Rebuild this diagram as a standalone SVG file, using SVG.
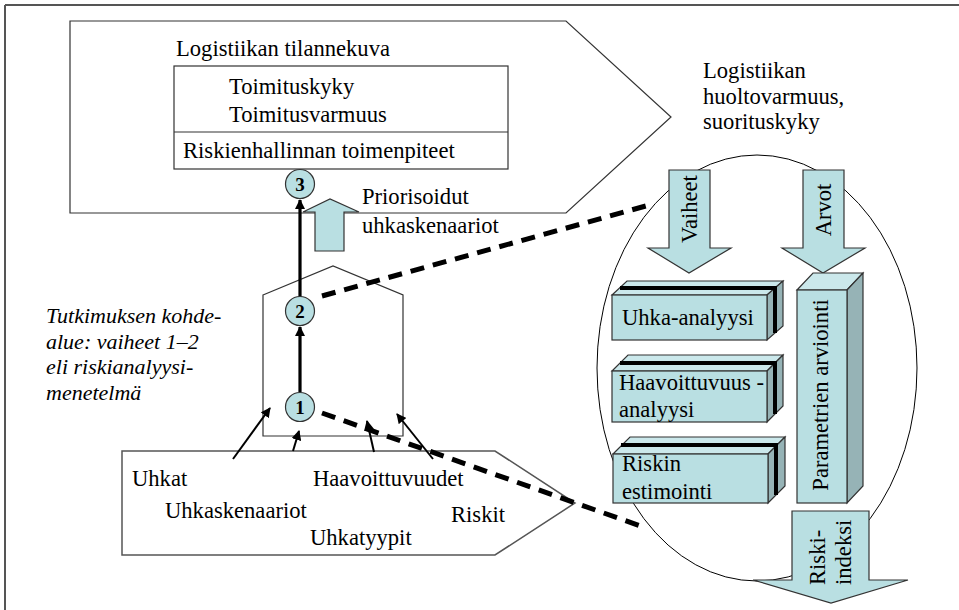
<svg xmlns="http://www.w3.org/2000/svg" width="959" height="610" viewBox="0 0 959 610" font-family="'Liberation Serif', Tinos, 'Times New Roman', 'DejaVu Serif', serif">
  <style>
    text { font-family: 'Liberation Serif', Tinos, 'Times New Roman', 'DejaVu Serif', serif; font-size: 22.6px; fill: #000; }
    .it { font-style: italic; font-size: 22px; }
    .num { font-weight: bold; font-size: 19px; text-anchor: middle; }
    .mid { text-anchor: middle; }
    .outline { fill: #fff; stroke: #333; stroke-width: 1.2; }
    .cyan { fill: #b9dfe2; stroke: #333; stroke-width: 1.2; }
    .top { fill: #cbe8eb; stroke: #333; stroke-width: 1.2; }
    .side { fill: #96b3b6; stroke: #333; stroke-width: 1.2; }
    .seam { fill: none; stroke: #000; stroke-width: 4; }
    .thin { stroke: #000; stroke-width: 2; fill: none; marker-end: url(#head); }
    .thick { stroke: #000; stroke-width: 3.2; fill: none; marker-end: url(#headBig); }
    .dash { stroke: #000; stroke-width: 5; fill: none; stroke-dasharray: 14 9; }
  </style>
  <defs>
    <marker id="head" viewBox="0 0 10 10" refX="9" refY="5" markerWidth="5" markerHeight="5" orient="auto" markerUnits="strokeWidth">
      <path d="M0,0 L10,5 L0,10 z" fill="#000"/>
    </marker>
    <marker id="headBig" viewBox="0 0 10 10" refX="9" refY="5" markerWidth="3.2" markerHeight="3.2" orient="auto" markerUnits="strokeWidth">
      <path d="M0,0 L10,5 L0,10 z" fill="#000"/>
    </marker>
  </defs>

  <rect width="959" height="610" fill="#fff"/>

  <!-- frame -->
  <g id="frame" stroke="#555" stroke-width="2" fill="none">
    <line x1="5" y1="5" x2="959" y2="5"/>
    <line x1="5" y1="5" x2="5" y2="610"/>
  </g>

  <!-- situation picture (top pentagon) -->
  <g id="tilannekuva">
    <polygon class="outline" points="70,21 566,21 671,117 566,213 70,213"/>
    <text x="176" y="56">Logistiikan tilannekuva</text>
    <rect x="174" y="66" width="334" height="103" fill="#fff" stroke="#333" stroke-width="1.2"/>
    <line x1="174" y1="132" x2="508" y2="132" stroke="#333" stroke-width="1.2"/>
    <text x="229" y="94">Toimituskyky</text>
    <text x="229" y="122">Toimitusvarmuus</text>
    <text x="183" y="158">Riskienhallinnan toimenpiteet</text>
  </g>

  <!-- right caption -->
  <g id="huoltovarmuus">
    <text x="703" y="78">Logistiikan</text>
    <text x="703" y="104">huoltovarmuus,</text>
    <text x="703" y="129">suorituskyky</text>
  </g>

  <!-- research area (middle pentagon) -->
  <g id="kohdealue">
    <polygon class="outline" points="263,295 333,266 403,295 403,436 263,436"/>
  </g>

  <g id="kohdealue-teksti">
    <text class="it" x="46" y="323">Tutkimuksen kohde-</text>
    <text class="it" x="46" y="349">alue: vaiheet 1–2</text>
    <text class="it" x="46" y="374">eli riskianalyysi-</text>
    <text class="it" x="46" y="400">menetelmä</text>
  </g>

  <!-- inputs (bottom pentagon) -->
  <g id="syotteet">
    <polygon points="122,451 495,451 575,503 495,555 122,555" fill="#fff" stroke="#555" stroke-width="1.5"/>
    <text x="132" y="486">Uhkat</text>
    <text x="313" y="486">Haavoittuvuudet</text>
    <text x="165" y="518">Uhkaskenaariot</text>
    <text x="310" y="545">Uhkatyypit</text>
    <text x="451" y="522">Riskit</text>
  </g>

  <!-- prioritised scenarios block arrow -->
  <g id="priorisoidut">
    <polygon class="cyan" points="315,251 315,212 303,212 330,199 359,212 344,212 344,251"/>
    <text x="362" y="204">Priorisoidut</text>
    <text x="362" y="233">uhkaskenaariot</text>
  </g>

  <!-- method ellipse -->
  <g id="menetelma">
    <ellipse cx="757" cy="368" rx="160" ry="213" fill="none" stroke="#000" stroke-width="1"/>
  </g>

  <g id="vaiheet">
    <polygon class="cyan" points="669,170 710,170 710,248 731,248 689,273 648,248 669,248"/>
    <text class="mid" transform="translate(697,209) rotate(-90)">Vaiheet</text>
  </g>

  <g id="arvot">
    <polygon class="cyan" points="803,170 844,170 844,248 865,248 823,273 782,248 803,248"/>
    <text class="mid" transform="translate(831,210) rotate(-90)">Arvot</text>
  </g>

  <!-- analysis blocks -->
  <g id="uhka-analyysi">
    <polygon class="top" points="612,295 627,281 783,281 767,295"/>
    <polygon class="side" points="767,295 783,281 783,326 767,340"/>
    <rect class="cyan" x="612" y="295" width="155" height="45"/>
    <polyline class="seam" points="620,288 775,288 775,333"/>
    <text x="622" y="325">Uhka-analyysi</text>
  </g>

  <g id="haavoittuvuusanalyysi">
    <polygon class="top" points="612,371 628,355 783,355 767,371"/>
    <polygon class="side" points="767,371 783,355 783,406 767,422"/>
    <rect class="cyan" x="612" y="371" width="155" height="51"/>
    <polyline class="seam" points="620,363 775,363 775,414"/>
    <text x="619" y="390">Haavoittuvuus -</text>
    <text x="619" y="417">analyysi</text>
  </g>

  <g id="riskin-estimointi">
    <polygon class="top" points="613,454 630,437 785,437 768,454"/>
    <polygon class="side" points="768,454 785,437 785,486 768,503"/>
    <rect class="cyan" x="613" y="454" width="155" height="49"/>
    <polyline class="seam" points="621,445 776,445 776,495"/>
    <text x="622" y="471">Riskin</text>
    <text x="622" y="499">estimointi</text>
  </g>

  <g id="parametrien-arviointi">
    <polygon class="top" points="797,290 813,273 863,273 847,290"/>
    <polygon class="side" points="847,290 863,273 863,486 847,503"/>
    <rect class="cyan" x="797" y="290" width="50" height="213"/>
    <text class="mid" transform="translate(828,395) rotate(-90)">Parametrien arviointi</text>
  </g>

  <g id="riski-indeksi">
    <polygon class="cyan" points="792,511 869,511 869,580 908,580 831,603 753,580 792,580"/>
    <text transform="translate(825,585) rotate(-90)">Riski-</text>
    <text transform="translate(851,585) rotate(-90)">indeksi</text>
  </g>

  <!-- connectors -->
  <g id="connectors">
    <line class="thick" x1="300" y1="392" x2="300" y2="327"/>
    <line class="thick" x1="300" y1="297" x2="300" y2="200"/>
    <line class="thin" x1="233" y1="459" x2="270" y2="408"/>
    <line class="thin" x1="293" y1="451" x2="299" y2="431"/>
    <line class="thin" x1="374" y1="452" x2="367" y2="421"/>
    <line class="thin" x1="433" y1="459" x2="397" y2="414"/>
    <line class="dash" x1="322" y1="296" x2="653" y2="204"/>
    <line class="dash" x1="322" y1="413" x2="646" y2="528"/>
  </g>

  <!-- process steps -->
  <g id="vaihe-3">
    <circle class="cyan" cx="300" cy="184" r="14.5" stroke="#000"/>
    <text class="num" x="300" y="190.5">3</text>
  </g>
  <g id="vaihe-2">
    <circle class="cyan" cx="300" cy="311" r="14.5" stroke="#000"/>
    <text class="num" x="300" y="317.5">2</text>
  </g>
  <g id="vaihe-1">
    <circle class="cyan" cx="300" cy="407" r="14.5" stroke="#000"/>
    <text class="num" x="300" y="413.5">1</text>
  </g>
</svg>
